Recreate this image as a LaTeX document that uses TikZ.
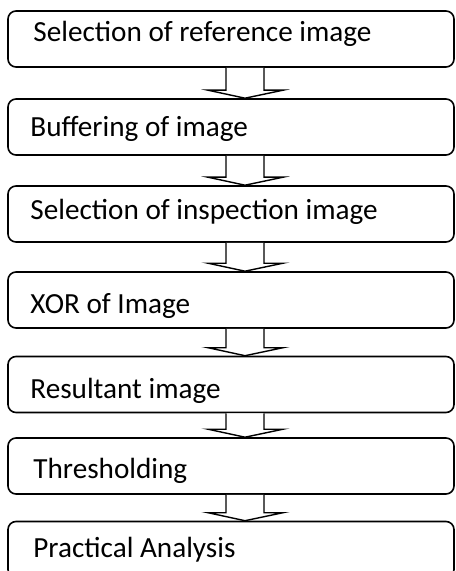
\documentclass[tikz,border=0pt]{standalone}
\usepackage{fontspec}
\setmainfont{Carlito}
\usetikzlibrary{calc}

\tikzset{
  stepbox/.style={draw, thick, rounded corners=4pt, minimum width=223pt, minimum height=28pt, inner sep=0pt},
  steptext/.style={anchor=base west, inner sep=0pt, font=\fontsize{14.6}{17}\selectfont},
  flowarrow/.style={draw, line width=0.7pt, fill=white}
}

\begin{document}
\begin{tikzpicture}[x=0.5pt, y=-0.5pt]
  \useasboundingbox (0,0) rectangle (455,571);

  % boxes
  \node[stepbox] (ref)    at (231,39)    {};
  \node[stepbox] (buf)    at (231,127)   {};
  \node[stepbox] (insp)   at (231,214)   {};
  \node[stepbox] (xor)    at (231,300)   {};
  \node[stepbox] (res)    at (231,384.5) {};
  \node[stepbox] (thr)    at (231,466)   {};
  \node[stepbox] (ana)    at (231,549.5) {};

  % labels
  \node[steptext] (tref)  at (33,42)  {Selection of reference image};
  \node[steptext] (tbuf)  at (30,137) {Buffering of image};
  \node[steptext] (tinsp) at (30,220) {Selection of inspection image};
  \node[steptext] (txor)  at (30,313) {XOR of Image};
  \node[steptext] (tres)  at (30,398) {Resultant image};
  \node[steptext] (tthr)  at (33,478) {Thresholding};
  \node[steptext] (tana)  at (33,557) {Practical Analysis};

  % block arrows
  \foreach \a/\b in {ref/buf, buf/insp, insp/xor, xor/res, res/thr, thr/ana}{
    \draw[flowarrow] ($(\a.south)+(-5,0)$) -- ($(\b.north)+(-5,-8)$)
      -- ($(\b.north)+(-23,-8)$) -- ($(\b.north)+(14,0)$)
      -- ($(\b.north)+(52,-8)$) -- ($(\b.north)+(33,-8)$)
      -- ($(\a.south)+(33,0)$);
  }
\end{tikzpicture}
\end{document}
